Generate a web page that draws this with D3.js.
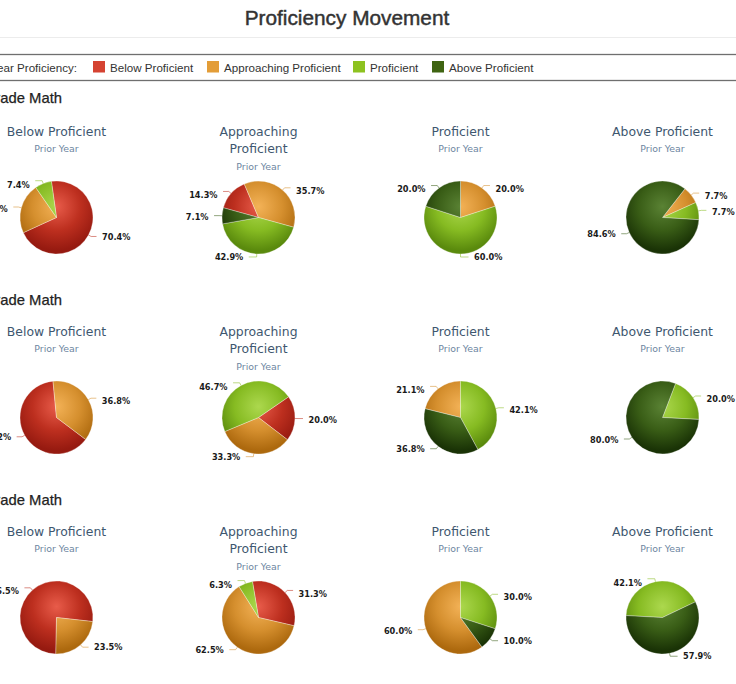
<!DOCTYPE html>
<html>
<head>
<meta charset="utf-8">
<script src="https://cdn.jsdelivr.net/npm/d3@7"></script>
<style>
  body { margin: 0; background: #fff; overflow: hidden; }
  svg { display: block; }
</style>
</head>
<body>
<div id="chart"></div>
<script>
// categories (current year result = slices, prior year = one pie per column)
var categories = ['Below Proficient', 'Approaching Proficient', 'Proficient', 'Above Proficient'];
var gradeRows = ['Grade Math', 'Grade Math', 'Grade Math'];

// percent of students in each current-year category, one array per pie
// order inside each array: below, approaching, proficient, above
var row1 = [[70.4, 22.2, 7.4, 0], [14.3, 35.7, 42.9, 7.1], [0, 20.0, 60.0, 20.0], [0, 7.7, 7.7, 84.6]];
var row2 = [[63.2, 36.8, 0, 0], [20.0, 33.3, 46.7, 0], [0, 21.1, 42.1, 36.8], [0, 0, 20.0, 80.0]];
var row3 = [[76.5, 23.5, 0, 0], [31.3, 62.5, 6.3, 0], [0, 60.0, 30.0, 10.0], [0, 0, 42.1, 57.9]];
var rows = [row1, row2, row3];

// angle (deg, from 12 o'clock) where each pie's first slice starts
var startAngles = [[-8, -74.5, 0, 38], [127, 55.5, -76, 21], [181, -9.5, 144, 273]];

// styles
var legendColors = ['#d54332', '#e39d38', '#8dc220', '#3f6412'];
var pieShades = [
    ['#e85c4a', '#bd2f1f', '#961a10'],
    ['#f3b257', '#d58f2e', '#ad690e'],
    ['#acd84e', '#86bb22', '#5a8a0d'],
    ['#5a8234', '#395d16', '#1a3306']
];

var W = 736, H = 684;
var radius = 36.5;
var colX = [56.5, 258.5, 460.5, 662.5];
var rowY = [217.5, 417.5, 617.5];
var headerY = [103, 305, 505];

var svg = d3.select('#chart').append('svg')
    .attr('width', W)
    .attr('height', H);

// gradients, one per category, in each pie's local coordinates
var defs = svg.append('defs');
pieShades.forEach(function(s, i) {
    var g = defs.append('radialGradient')
        .attr('id', 'grad' + i)
        .attr('gradientUnits', 'userSpaceOnUse')
        .attr('cx', 0).attr('cy', -radius * 0.3)
        .attr('r', radius * 1.2);
    g.append('stop').attr('offset', '0%').attr('stop-color', s[0]);
    g.append('stop').attr('offset', '55%').attr('stop-color', s[1]);
    g.append('stop').attr('offset', '100%').attr('stop-color', s[2]);
});

// page title
svg.append('text')
    .attr('x', 347).attr('y', 25)
    .attr('text-anchor', 'middle')
    .style('font-family', '"Liberation Sans", Arial, Helvetica, sans-serif')
    .style('font-size', '20.8px')
    .style('fill', '#333')
    .style('stroke', '#333').style('stroke-width', 0.45)
    .text('Proficiency Movement');

svg.append('line')
    .attr('x1', 0).attr('x2', W).attr('y1', 37.5).attr('y2', 37.5)
    .style('stroke', '#ececec');

// legend box
var legend = svg.append('g').attr('class', 'legend');
legend.append('rect')
    .attr('x', -3).attr('y', 54.5)
    .attr('width', W + 6).attr('height', 26)
    .style('fill', '#fff')
    .style('stroke', '#6f6f6f')
    .style('stroke-width', 1.3);

var legendFont = '"Liberation Sans", Arial, Helvetica, sans-serif';
legend.append('text')
    .attr('x', 77).attr('y', 71.5)
    .attr('text-anchor', 'end')
    .style('font-family', legendFont).style('font-size', '11.6px').style('fill', '#333')
    .text('Prior Year Proficiency:');

var legendX = [93, 207, 353, 432];
categories.forEach(function(c, i) {
    legend.append('rect')
        .attr('x', legendX[i]).attr('y', 61)
        .attr('width', 12).attr('height', 11.5)
        .style('fill', legendColors[i]);
    legend.append('text')
        .attr('x', legendX[i] + 17).attr('y', 71.5)
        .style('font-family', legendFont).style('font-size', '11.6px').style('fill', '#333')
        .text(c);
});

var pie = d3.pie().sort(null).value(function(d) { return d; });
var arc = d3.arc().innerRadius(0).outerRadius(radius);
var fmt = d3.format('.1f');
var titleFont = '"DejaVu Sans", Verdana, sans-serif';

rows.forEach(function(row, r) {
    // grade header (left part is off the page)
    svg.append('text')
        .attr('x', 62).attr('y', headerY[r])
        .attr('text-anchor', 'end')
        .style('font-family', legendFont)
        .style('font-size', '14.8px')
        .style('fill', '#222')
        .style('stroke', '#222').style('stroke-width', 0.25)
        .text(gradeRows[r]);

    row.forEach(function(vals, c) {
        var cx = colX[c], cy = rowY[r];
        var g = svg.append('g').attr('transform', 'translate(' + cx + ',' + cy + ')');

        // pie title, wrapped when too long
        var name = categories[c];
        var lines = name.length > 18 ? [name.slice(0, name.lastIndexOf(' ')), name.slice(name.lastIndexOf(' ') + 1)] : [name];
        lines.forEach(function(l, k) {
            g.append('text')
                .attr('x', 0).attr('y', -82 + k * 17.6)
                .attr('text-anchor', 'middle')
                .style('font-family', titleFont)
                .style('font-size', '12.4px')
                .style('fill', '#3E576F')
                .text(l);
        });
        g.append('text')
            .attr('x', 0).attr('y', -65.5 + (lines.length - 1) * 17.6)
            .attr('text-anchor', 'middle')
            .style('font-family', titleFont)
            .style('font-size', '9.4px')
            .style('fill', '#6D869F')
            .text('Prior Year');

        var sa = startAngles[r][c] * Math.PI / 180;
        pie.startAngle(sa).endAngle(sa + 2 * Math.PI);
        var arcs = pie(vals).map(function(d, i) { d.cat = i; return d; })
            .filter(function(d) { return d.value > 0; });

        g.selectAll('.slice')
            .data(arcs)
            .enter()
            .append('path')
            .attr('class', 'slice')
            .attr('d', arc)
            .style('fill', function(d) { return 'url(#grad' + d.cat + ')'; })
            .style('stroke', 'rgba(255,255,255,0.45)')
            .style('stroke-width', 0.7);

        // labels with short connectors
        arcs.forEach(function(d) {
            var a = (d.startAngle + d.endAngle) / 2;
            var sx = Math.sin(a), sy = -Math.cos(a);
            var ex = radius * sx, ey = radius * sy;
            var norm = ((a % (2 * Math.PI)) + 2 * Math.PI) % (2 * Math.PI);
            var side = norm <= Math.PI + 1e-6 ? 1 : -1;
            g.append('path')
                .attr('d', 'M' + ex + ',' + ey + 'L' + (ex + 3 * sx) + ',' + (ey + 3 * sy) + 'L' + (ex + side * 8) + ',' + (ey + 3 * sy))
                .style('fill', 'none')
                .style('stroke', pieShades[d.cat][1])
                .style('stroke-width', 1)
                .style('opacity', 0.55);
            g.append('text')
                .attr('x', ex + side * 13.5)
                .attr('y', ey + 1.5 + 1.5 * Math.max(0, sy))
                .attr('dy', '0.35em')
                .attr('text-anchor', side > 0 ? 'start' : 'end')
                .style('font-family', titleFont)
                .style('font-size', '8.2px')
                .style('font-weight', 'bold')
                .style('fill', '#1a1a1a')
                .text(fmt(d.value) + '%');
        });
    });
});
</script>
</body>
</html>
